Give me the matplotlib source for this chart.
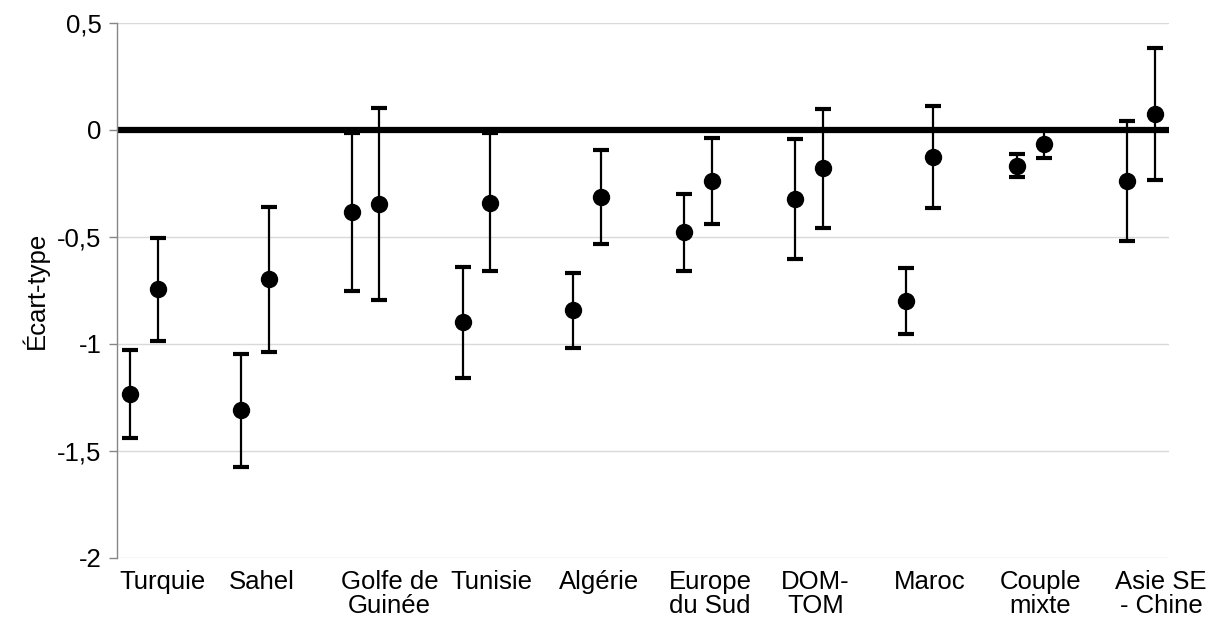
import matplotlib
matplotlib.use("Agg")
import matplotlib.pyplot as plt
import numpy as np

plt.rcParams['font.family'] = ['Liberation Sans', 'DejaVu Sans']

# ==========================
# Data
# ==========================
categories = ["Turquie", "Sahel", "Golfe de\nGuinée", "Tunisie", "Algérie",
              "Europe\ndu Sud", "DOM-\nTOM", "Maroc", "Couple\nmixte", "Asie SE\n- Chine"]

# first point of each group
mean_a = [-1.234, -1.310, -0.386, -0.899, -0.843, -0.480, -0.322, -0.799, -0.167, -0.240]
low_a = [-1.441, -1.578, -0.753, -1.161, -1.019, -0.662, -0.604, -0.955, -0.222, -0.519]
high_a = [-1.031, -1.047, -0.016, -0.642, -0.668, -0.300, -0.042, -0.648, -0.112, 0.039]

# second point of each group
mean_b = [-0.746, -0.697, -0.346, -0.340, -0.312, -0.238, -0.179, -0.127, -0.067, 0.073]
low_b = [-0.989, -1.038, -0.796, -0.659, -0.533, -0.440, -0.458, -0.367, -0.133, -0.236]
high_b = [-0.508, -0.363, 0.101, -0.016, -0.096, -0.039, 0.098, 0.111, -0.001, 0.383]

yticks = [0.5, 0, -0.5, -1, -1.5, -2]

# ==========================
# Layout
# ==========================
fig = plt.figure(figsize=(12.1, 6.3), dpi=100)
ax = fig.add_axes([0.0967, 0.115, 0.8694, 0.8487])

groups = np.arange(1, len(categories) + 1)
offset = 0.125
# label positions as Excel placed them (not exactly under the groups)
label_x = [1.167, 2.063, 3.216, 4.135, 5.108, 6.11, 7.06, 8.09, 9.09, 10.18]

ax.axhline(0, color="black", lw=4.5, zorder=2)

for xs, m, lo, hi in [(groups - offset, mean_a, low_a, high_a),
                      (groups + offset, mean_b, low_b, high_b)]:
    m = np.array(m)
    yerr = [m - np.array(lo), np.array(hi) - m]
    ax.errorbar(xs, m, yerr=yerr, fmt="o", color="black", markersize=11.5,
                elinewidth=1.6, capsize=5.5, capthick=3, zorder=3)

# ==========================
# Formatting
# ==========================
fs = 18.5
ax.set_xlim(0.757, 10.25)
ax.set_ylim(-2, 0.5)
ax.set_yticks(yticks)
ax.set_yticklabels([f"{v:g}".replace(".", ",") for v in yticks], fontsize=fs)
ax.grid(axis="y", color="#d9d9d9", lw=1)
ax.set_axisbelow(True)

ax.set_xticks(label_x)
ax.set_xticklabels(categories, fontsize=fs, linespacing=1.0)
ax.tick_params(axis="x", length=0, pad=9)
ax.tick_params(axis="y", length=6, width=1, color="#868686", pad=5)

for side in ["top", "right", "bottom"]:
    ax.spines[side].set_visible(False)
ax.spines["left"].set_color("#868686")
ax.spines["left"].set_linewidth(1)

ax.set_ylabel("Écart-type", fontsize=fs, labelpad=6)

plt.savefig("out.png", dpi=100)
